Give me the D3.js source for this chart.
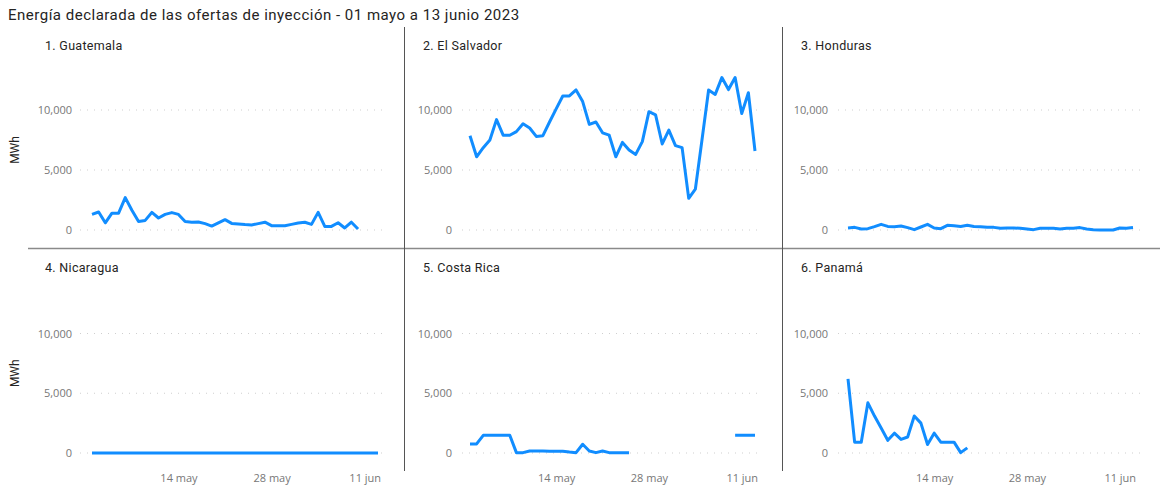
<!DOCTYPE html>
<html>
<head>
<meta charset="utf-8">
<script src="https://cdn.jsdelivr.net/npm/d3@7"></script>
<style>
  body { margin: 0; background: #fff; }
  svg { display: block; }
  .tick text { font-family: "Open Sans", sans-serif; font-size: 11px; fill: #777; }
  .panel-title { font-family: Roboto, sans-serif; font-size: 12.5px; fill: #252423; letter-spacing: 0.3px; }
</style>
</head>
<body>
<svg width="1167" height="494"></svg>
<script>
// daily values, 01 may .. 13 jun 2023 (MWh)
var startDay = new Date(2023, 4, 1);
var endDay = new Date(2023, 5, 13);
var xTicks = [new Date(2023, 4, 14), new Date(2023, 4, 28), new Date(2023, 5, 11)];
var yTicks = [0, 5000, 10000];

var countries = ["1. Guatemala", "2. El Salvador", "3. Honduras", "4. Nicaragua", "5. Costa Rica", "6. Panamá"];

var guatemala = [1300, 1500, 600, 1400, 1400, 2700, 1650, 700, 800, 1470, 1000, 1300, 1450, 1300, 700, 650, 670, 530, 330, 600,
  860, 550, 500, 450, 420, 530, 650, 360, 360, 360, 470, 580, 650, 470, 1470, 300, 300, 600, 170, 650, 80];

var elSalvador = [7850, 6100, 6860, 7500, 9200, 7900, 7900, 8200, 8850, 8500, 7800, 7860, 9000, 10100, 11170, 11170, 11670, 10700, 8800, 9000,
  8100, 7900, 6100, 7300, 6670, 6300, 7360, 9860, 9600, 7170, 8330, 7030, 6860, 2640, 3400, 7500, 11670, 11300, 12700, 11700,
  12700, 9700, 11440, 6580];

var honduras = [170, 220, 80, 110, 280, 470, 300, 280, 330, 200, 30, 250, 470, 170, 110, 390, 360, 300, 390, 300,
  280, 220, 220, 140, 170, 170, 140, 80, 30, 140, 140, 140, 80, 140, 140, 200, 80, 30, 0, 0,
  0, 170, 140, 200];

var nicaragua = [0, 0, 0, 0, 0, 0, 0, 0, 0, 0, 0, 0, 0, 0, 0, 0, 0, 0, 0, 0,
  0, 0, 0, 0, 0, 0, 0, 0, 0, 0, 0, 0, 0, 0, 0, 0, 0, 0, 0, 0,
  0, 0, 0, 0];

var costaRica = [760, 760, 1480, 1480, 1480, 1480, 1480, 30, 30, 170, 170, 170, 150, 150, 150, 80, 30, 730, 170, 30,
  170, 30, 30, 30, 20, null, null, null, null, null, null, null, null, null, null, null, null, null, null, null,
  1480, 1480, 1480, 1480];

var panama = [6200, 910, 910, 4200, 3090, 2090, 1060, 1660, 1140, 1340, 3100, 2500, 710, 1660, 910, 910, 910, 30, 430];

var series = [guatemala, elSalvador, honduras, nicaragua, costaRica, panama];

var svg = d3.select("svg");

var cols = [
  {x0: 92, x1: 378, gl: 80, gr: 385, lx: 72, tx: 45},
  {x0: 470, x1: 755, gl: 462, gr: 763, lx: 452, tx: 423},
  {x0: 848, x1: 1133, gl: 838, gr: 1141, lx: 828, tx: 801}
];
var rows = [
  {y0: 230, y1: 110, ty: 50},
  {y0: 453, y1: 333.5, ty: 272}
];

// title
svg.append("text")
  .attr("x", 8).attr("y", 20)
  .attr("font-family", "Roboto, sans-serif")
  .attr("font-size", 15)
  .attr("letter-spacing", "0.5px")
  .attr("fill", "#252423")
  .text("Energía declarada de las ofertas de inyección - 01 mayo a 13 junio 2023");

// separators
svg.append("line").attr("x1", 28).attr("x2", 1160).attr("y1", 248.5).attr("y2", 248.5)
  .attr("stroke", "#8a8a8a").attr("stroke-width", 1.5);
[404.5, 782.5].forEach(function(x){
  svg.append("line").attr("x1", x).attr("x2", x).attr("y1", 27).attr("y2", 471)
    .attr("stroke", "#555").attr("stroke-width", 1);
});

series.forEach(function(values, i){
  var c = cols[i % 3], r = rows[Math.floor(i / 3)];
  var g = svg.append("g");

  var x = d3.scaleTime().domain([startDay, endDay]).range([c.x0, c.x1]);
  var y = d3.scaleLinear().domain([0, 10000]).range([r.y0, r.y1]);

  var data = values.map(function(v, k){
    return {date: d3.timeDay.offset(startDay, k), value: v};
  });

  // gridlines
  g.selectAll(".grid")
    .data(yTicks)
    .enter()
    .append("line")
    .attr("x1", c.gl).attr("x2", c.gr)
    .attr("y1", function(d){ return y(d); })
    .attr("y2", function(d){ return y(d); })
    .attr("stroke", "#cfcfcf")
    .attr("stroke-width", 1)
    .attr("stroke-dasharray", "1,6");

  var yAxis = g.append("g")
    .attr("transform", "translate(" + (c.lx + 4) + ",0)")
    .call(d3.axisLeft(y).tickValues(yTicks).tickFormat(d3.format(",")).tickSize(0).tickPadding(4));
  yAxis.select(".domain").remove();

  if (r === rows[1]) {
    var xAxis = g.append("g")
      .attr("transform", "translate(0," + (r.y0 + 17) + ")")
      .call(d3.axisBottom(x).tickValues(xTicks).tickSize(0).tickPadding(4)
        .tickFormat(function(d){
          var m = d.getMonth() === 4 ? "may" : "jun";
          return d.getDate() + " " + m;
        }));
    xAxis.select(".domain").remove();
  }

  if (i % 3 === 0) {
    var cy = (r.y0 + r.y1) / 2 - 20;
    g.append("text")
      .attr("transform", "translate(19," + cy + ") rotate(-90)")
      .attr("text-anchor", "middle")
      .attr("font-family", "Roboto, sans-serif")
      .attr("font-size", 12)
      .attr("fill", "#252423")
      .text("MWh");
  }

  g.append("text")
    .attr("class", "panel-title")
    .attr("x", c.tx).attr("y", r.ty)
    .text(countries[i]);

  var line = d3.line()
    .defined(function(d){ return d.value !== null; })
    .x(function(d){ return x(d.date); })
    .y(function(d){ return y(d.value); });

  g.append("path")
    .datum(data)
    .attr("d", line)
    .attr("fill", "none")
    .attr("stroke", "#118DFF")
    .attr("stroke-width", 3)
    .attr("stroke-linejoin", "round");
});
</script>
</body>
</html>
